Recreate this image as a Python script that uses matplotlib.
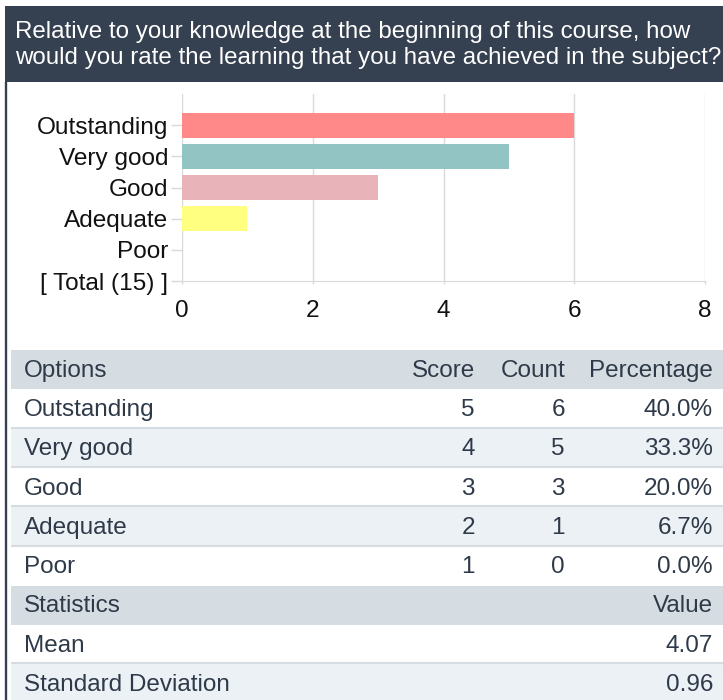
import matplotlib.pyplot as plt
from matplotlib.patches import Rectangle

plt.rcParams['font.family'] = ['Liberation Sans', 'DejaVu Sans']

# survey question
title_lines = [
    "Relative to your knowledge at the beginning of this course, how",
    "would you rate the learning that you have achieved in the subject?",
]

# chart data
categories = ["Outstanding", "Very good", "Good", "Adequate", "Poor", "[ Total (15) ]"]
bar_counts = [6, 5, 3, 1, 0]
bar_colors = ["#ff8888", "#93c4c4", "#e8b4ba", "#ffff80", "#c0c0c0"]
x_ticks = [0, 2, 4, 6, 8]

# table data
table_header = ["Options", "Score", "Count", "Percentage"]
options = ["Outstanding", "Very good", "Good", "Adequate", "Poor"]
scores = [5, 4, 3, 2, 1]
counts = [6, 5, 3, 1, 0]
percentages = ["40.0%", "33.3%", "20.0%", "6.7%", "0.0%"]
stats_header = ["Statistics", "Value"]
stat_names = ["Mean", "Standard Deviation"]
stat_values = ["4.07", "0.96"]

W, H = 723, 700
DARK = "#354050"
TEXT = "#2f3a49"
HEAD_BG = "#d6dde2"
ALT_BG = "#ecf1f5"

fig = plt.figure(figsize=(W / 100, H / 100), dpi=100)

# background layer in pixel coordinates
bg = fig.add_axes([0, 0, 1, 1])
bg.set_xlim(0, W)
bg.set_ylim(H, 0)
bg.axis("off")

bg.add_patch(Rectangle((5, 6), W - 5, 76, color=DARK, lw=0))
bg.plot([6.2, 6.2], [82, H], color=DARK, lw=1.7, solid_capstyle="butt")
for i, line in enumerate(title_lines):
    bg.text(15, 32 + i * 26, line, color="white", fontsize=17.4,
            va="center", ha="left")

# table
row_top = 350
row_h = 39.3
col_right = [None, 475, 565, 713]
rows = [("head", table_header)]
for o, s, c, p in zip(options, scores, counts, percentages):
    rows.append(("data", [o, str(s), str(c), p]))
rows.append(("head", [stats_header[0], None, None, stats_header[1]]))
for n, v in zip(stat_names, stat_values):
    rows.append(("data", [n, None, None, v]))

alt = False
for r, (kind, cells) in enumerate(rows):
    y0 = row_top + r * row_h
    if kind == "head":
        bg.add_patch(Rectangle((11, y0), W - 11, row_h, color=HEAD_BG, lw=0))
        alt = False
    else:
        if alt:
            bg.add_patch(Rectangle((11, y0), W - 11, row_h, color=ALT_BG, lw=0))
        alt = not alt
        nxt = rows[r + 1][0] if r + 1 < len(rows) else None
        if nxt == "data":
            bg.plot([11, W], [y0 + row_h - 1, y0 + row_h - 1], color=HEAD_BG,
                    lw=1.5, solid_capstyle="butt")
    yc = y0 + row_h / 2 + 1
    for j, cell in enumerate(cells):
        if cell is None:
            continue
        if j == 0:
            bg.text(24, yc, cell, color=TEXT, fontsize=17.5, va="center", ha="left")
        else:
            bg.text(col_right[j], yc, cell, color=TEXT, fontsize=17.5,
                    va="center", ha="right")

# bar chart
left, right, top, bottom = 182, 705, 94, 281
ax = fig.add_axes([left / W, 1 - bottom / H, (right - left) / W, (bottom - top) / H])
ax.barh(range(len(bar_counts)), bar_counts, height=0.8, color=bar_colors[:len(bar_counts)],
        zorder=3)
ax.set_yticks(range(len(categories)))
ax.set_yticklabels(categories)
ax.set_ylim(5, -1)
ax.set_xlim(0, 8)
ax.set_xticks(x_ticks)
ax.grid(axis="x", color="#d9d9d9", lw=1, zorder=0)
for s in ["top", "right", "left"]:
    ax.spines[s].set_visible(False)
ax.spines["bottom"].set_color("#d9d9d9")
ax.tick_params(axis="y", length=8, width=1, color="#d9d9d9", pad=2,
               labelsize=17.6, labelcolor="#111111")
ax.tick_params(axis="x", length=2, width=1, color="#d9d9d9", pad=12,
               labelsize=17.6, labelcolor="#111111")

fig.savefig("out.png", dpi=100)
